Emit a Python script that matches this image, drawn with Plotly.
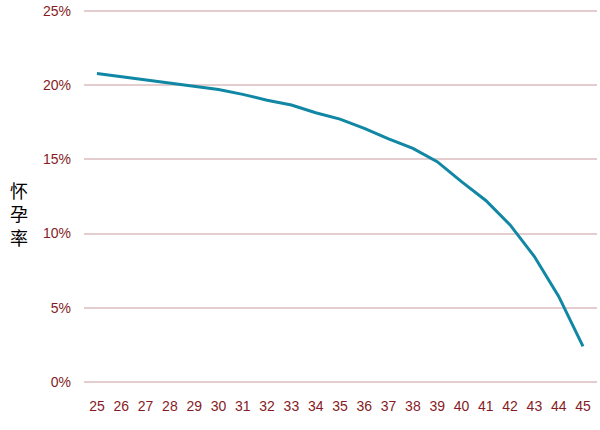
import plotly.graph_objects as go

ages = list(range(25, 46))
rates = [20.8, 20.58, 20.4, 20.19, 19.95, 19.72, 19.39, 19.0, 18.67, 18.15, 17.72,
         17.09, 16.39, 15.74, 14.85, 13.5, 12.23, 10.58, 8.45, 5.76, 2.39]
y_ticks = [0, 5, 10, 15, 20, 25]
y_tick_labels = ["0%", "5%", "10%", "15%", "20%", "25%"]
y_title = "怀孕率"

tick_color = "#851b25"
fig = go.Figure()
fig.add_trace(go.Scatter(
    x=ages, y=rates, mode="lines",
    line=dict(color="#1087a4", width=3),
    hoverinfo="skip", showlegend=False,
))

fig.update_layout(
    width=600, height=430,
    margin=dict(l=84, r=3, t=9, b=46, autoexpand=False),
    paper_bgcolor="white", plot_bgcolor="white",
    font=dict(family="Liberation Sans, Arial, sans-serif", size=14, color=tick_color),
    xaxis=dict(
        range=[24.465, 45.576], automargin=False,
        tickmode="array", tickvals=ages, ticktext=[str(a) for a in ages],
        showgrid=False, zeroline=False, showline=False,
        ticks="", ticklabelstandoff=12,
        tickfont=dict(size=14, color=tick_color),
    ),
    yaxis=dict(
        range=[-0.15, 25.15], automargin=False,
        tickmode="array", tickvals=y_ticks, ticktext=y_tick_labels,
        showgrid=True, gridcolor="#e3cdcf", gridwidth=1.5,
        zeroline=False, showline=False,
        ticks="", ticklabelstandoff=12,
        tickfont=dict(size=14, color=tick_color),
    ),
    annotations=[dict(
        text="<br>".join(list(y_title)),
        xref="paper", yref="paper",
        x=-0.148, y=0.456, xanchor="left", yanchor="middle",
        showarrow=False, align="center",
        font=dict(family="Noto Sans CJK SC", size=18, color="black"),
    )],
)

fig.write_html("out.html", config={"displayModeBar": False},
               post_script="document.body.style.margin='0px';")
